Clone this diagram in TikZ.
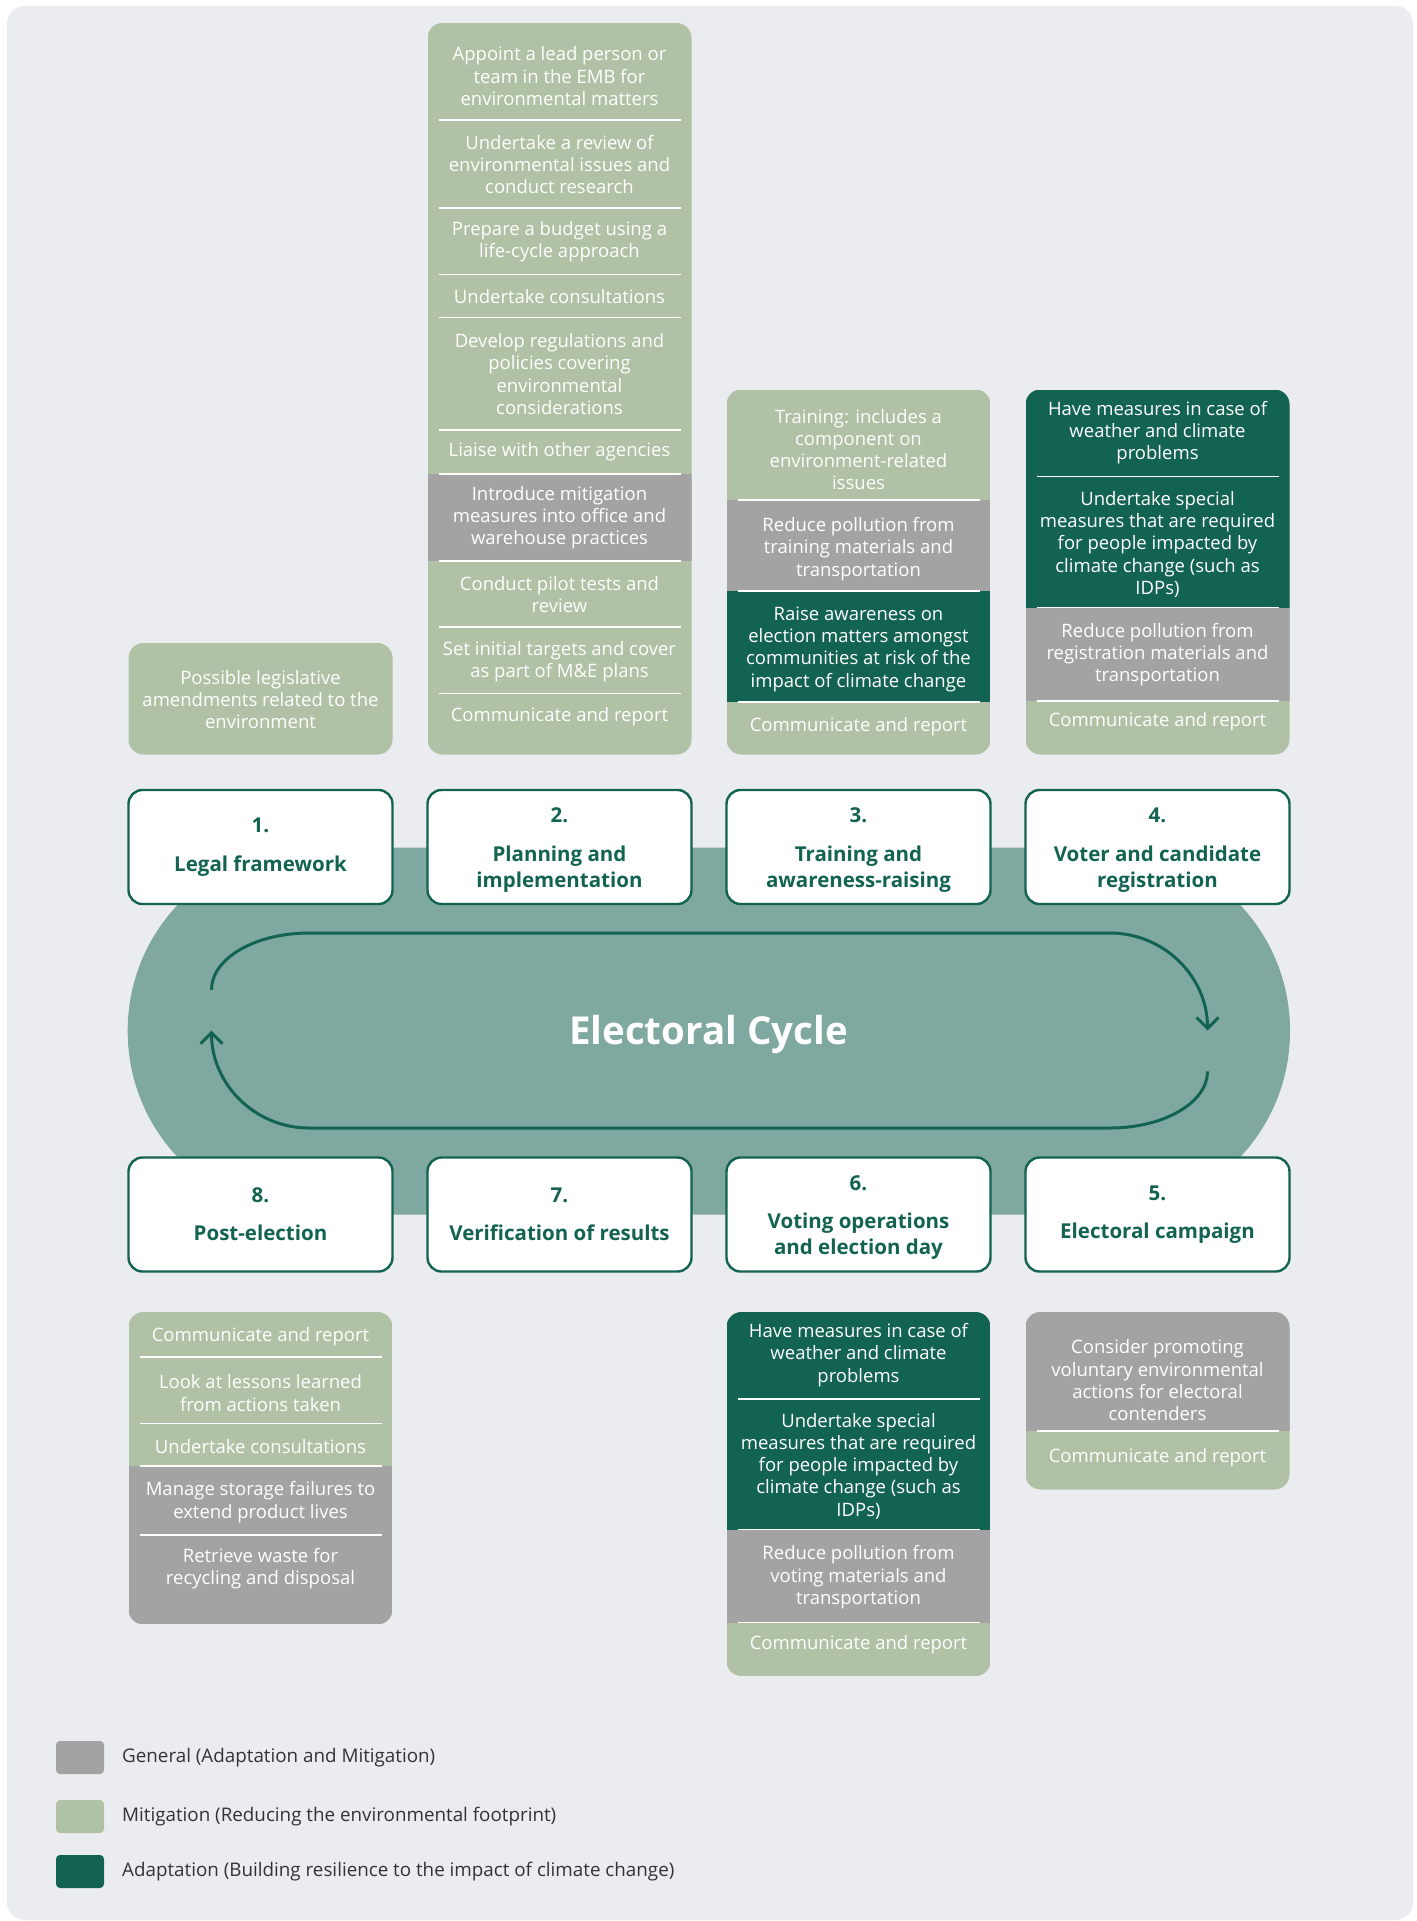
\documentclass[tikz,border=0pt]{standalone}
\usepackage{fontspec}
\setmainfont{Open Sans}
\usetikzlibrary{arrows.meta}

\definecolor{fond}{HTML}{EBECF0}
\definecolor{sauge}{HTML}{B0C1A5}
\definecolor{gris}{HTML}{A3A3A3}
\definecolor{vertfonce}{HTML}{136352}
\definecolor{sarcelle}{HTML}{7FA8A0}

\begin{document}
\begin{tikzpicture}[x=1pt,y=1pt,yscale=-1,
  etape/.style={draw=vertfonce,line width=2.4pt,fill=white,rounded corners=14pt,
    minimum width=264pt,minimum height=114pt,inner sep=0pt,align=center,
    text=vertfonce,font=\fontsize{20.5}{26}\selectfont\bfseries},
  texte/.style={text=white,align=center,inner sep=0pt,yshift=-1.6pt,
    font=\fontsize{18.5}{22.3}\selectfont},
  trait/.style={white,line width=1.6pt},
  boucle/.style={vertfonce,line width=3pt,-{Straight Barb[length=11pt,width=22pt]}},
  legende/.style={anchor=west,inner sep=0pt,text=black!80,
    font=\fontsize{18.8}{22}\selectfont}]

% Fond
\fill[white] (0,0) rectangle (1416,1921);
\fill[fond,rounded corners=18pt] (7,6) rectangle (1413,1920);

% Anneau central et boucle
\fill[sarcelle,rounded corners=183pt] (127.7,847.5) rectangle (1290,1214.5);
\draw[boucle] (211.5,989.8) arc[start angle=180,end angle=270,x radius=97.5,y radius=56.8]
  -- (1110,933) arc[start angle=270,end angle=360,radius=97.5];
\draw[boucle] (1207.5,1071.4) arc[start angle=0,end angle=90,x radius=97.5,y radius=56.6]
  -- (309,1128) arc[start angle=90,end angle=180,radius=97.5];
\node[text=white,font=\fontsize{38.5}{40}\selectfont\bfseries] (titre) at (708.5,1034.5) {Electoral Cycle};

% Etapes du cycle
\node[etape] (etape1) at (260.5,847) {1.\\[12.3pt]Legal framework};
\node[etape] (etape2) at (559.5,847) {\rule{0pt}{21pt}2.\\[12.7pt]Planning and\\implementation};
\node[etape] (etape3) at (858.5,847) {\rule{0pt}{21pt}3.\\[12.7pt]Training and\\awareness-raising};
\node[etape] (etape4) at (1157.5,847) {\rule{0pt}{21pt}4.\\[12.7pt]Voter and candidate\\registration};
\node[etape] (etape5) at (1157.5,1214.5) {5.\\[12.3pt]Electoral campaign};
\node[etape] (etape6) at (858.5,1214.5) {\rule{0pt}{21pt}6.\\[12.7pt]Voting operations\\and election day};
\node[etape] (etape7) at (559.5,1214.5) {7.\\[12.3pt]Verification of results};
\node[etape] (etape8) at (260.5,1214.5) {8.\\[12.3pt]Post-election};

% Colonne 1 (haut)
\fill[sauge,rounded corners=15pt] (128.5,643) rectangle (392.5,754.5);
\node[texte] (legis) at (260.5,698) {Possible legislative\\amendments related to the\\environment};

% Colonne 2 (haut)
\begin{scope}
\clip[rounded corners=15pt] (427.5,23) rectangle (691.5,754.5);
\fill[sauge] (427.5,23) rectangle (691.5,754.5);
\fill[gris] (427.5,474) rectangle (691.5,561);
\end{scope}
\draw[trait] (438.5,120) -- (680.5,120) (438.5,208.2) -- (680.5,208.2)
  (438.5,274.4) -- (680.5,274.4) (438.5,317.3) -- (680.5,317.3)
  (438.5,430) -- (680.5,430) (438.5,474) -- (680.5,474)
  (438.5,561) -- (680.5,561) (438.5,627.2) -- (680.5,627.2)
  (438.5,693.3) -- (680.5,693.3);
\node[texte] (plan1) at (559.5,74.7) {Appoint a lead person or\\team in the EMB for\\environmental matters};
\node[texte] (plan2) at (559.5,162.9) {Undertake a review of\\environmental issues and\\conduct research};
\node[texte] (plan3) at (559.5,240.1) {Prepare a budget using a\\life-cycle approach};
\node[texte] (plan4) at (559.5,295.2) {Undertake consultations};
\node[texte] (plan5) at (559.5,372.4) {Develop regulations and\\policies covering\\environmental\\considerations};
\node[texte] (plan6) at (559.5,450.5) {Liaise with other agencies};
\node[texte] (plan7) at (559.5,516.1) {Introduce mitigation\\measures into office and\\warehouse practices};
\node[texte] (plan8) at (559.5,592.9) {Conduct pilot tests and\\review};
\node[texte] (plan9) at (559.5,660.2) {Set initial targets and cover\\as part of M\&E plans};
\node[texte] (plan10) at (559.5,715.3) {Communicate and report};

% Colonne 3 (haut)
\begin{scope}
\clip[rounded corners=15pt] (726.5,389.5) rectangle (990.5,754.5);
\fill[sauge] (726.5,389.5) rectangle (990.5,754.5);
\fill[gris] (726.5,500) rectangle (990.5,591);
\fill[vertfonce] (726.5,591) rectangle (990.5,701.7);
\end{scope}
\draw[trait] (737.5,500) -- (979.5,500) (737.5,591) -- (979.5,591)
  (737.5,701.7) -- (979.5,701.7);
\node[texte] (form1) at (858.5,448) {Training: includes a\\component on\\environment-related\\issues};
\node[texte] (form2) at (858.5,547.5) {Reduce pollution from\\training materials and\\transportation};
\node[texte] (form3) at (858.5,647.4) {Raise awareness on\\election matters amongst\\communities at risk of the\\impact of climate change};
\node[texte] (form4) at (858.5,725) {Communicate and report};

% Colonne 4 (haut)
\begin{scope}
\clip[rounded corners=15pt] (1025.5,389.5) rectangle (1289.5,754.5);
\fill[sauge] (1025.5,389.5) rectangle (1289.5,754.5);
\fill[vertfonce] (1025.5,389.5) rectangle (1289.5,607.5);
\fill[gris] (1025.5,607.5) rectangle (1289.5,700.7);
\end{scope}
\draw[trait] (1036.5,476.5) -- (1278.5,476.5) (1036.5,607.5) -- (1278.5,607.5)
  (1036.5,700.7) -- (1278.5,700.7);
\node[texte] (insc1) at (1157.5,431) {Have measures in case of\\weather and climate\\problems};
\node[texte] (insc2) at (1157.5,542.6) {Undertake special\\measures that are required\\for people impacted by\\climate change (such as\\IDPs)};
\node[texte] (insc3) at (1157.5,652.9) {Reduce pollution from\\registration materials and\\transportation};
\node[texte] (insc4) at (1157.5,720) {Communicate and report};

% Colonne 1 (bas)
\begin{scope}
\clip[rounded corners=15pt] (128.5,1312) rectangle (392.5,1624.3);
\fill[sauge] (128.5,1312) rectangle (392.5,1624.3);
\fill[gris] (128.5,1466.2) rectangle (392.5,1624.3);
\end{scope}
\draw[trait] (139.5,1357) -- (381.5,1357) (139.5,1423.3) -- (381.5,1423.3)
  (139.5,1466.2) -- (381.5,1466.2) (139.5,1534.8) -- (381.5,1534.8);
\node[texte] (post1) at (260.5,1335) {Communicate and report};
\node[texte] (post2) at (260.5,1391.5) {Look at lessons learned\\from actions taken};
\node[texte] (post3) at (260.5,1445.4) {Undertake consultations};
\node[texte] (post4) at (260.5,1500.5) {Manage storage failures to\\extend product lives};
\node[texte] (post5) at (260.5,1566.8) {Retrieve waste for\\recycling and disposal};

% Colonne 3 (bas)
\begin{scope}
\clip[rounded corners=15pt] (726.5,1312) rectangle (990.5,1676);
\fill[sauge] (726.5,1312) rectangle (990.5,1676);
\fill[vertfonce] (726.5,1312) rectangle (990.5,1529.6);
\fill[gris] (726.5,1529.6) rectangle (990.5,1622.5);
\end{scope}
\draw[trait] (737.5,1399) -- (979.5,1399) (737.5,1529.6) -- (979.5,1529.6)
  (737.5,1622.5) -- (979.5,1622.5);
\node[texte] (vote1) at (858.5,1353.5) {Have measures in case of\\weather and climate\\problems};
\node[texte] (vote2) at (858.5,1464.5) {Undertake special\\measures that are required\\for people impacted by\\climate change (such as\\IDPs)};
\node[texte] (vote3) at (858.5,1575.6) {Reduce pollution from\\voting materials and\\transportation};
\node[texte] (vote4) at (858.5,1642.7) {Communicate and report};

% Colonne 4 (bas)
\begin{scope}
\clip[rounded corners=15pt] (1025.5,1312) rectangle (1289.5,1489.5);
\fill[sauge] (1025.5,1312) rectangle (1289.5,1489.5);
\fill[gris] (1025.5,1312) rectangle (1289.5,1430.7);
\end{scope}
\draw[trait] (1036.5,1430.7) -- (1278.5,1430.7);
\node[texte] (camp1) at (1157.5,1378.6) {Consider promoting\\voluntary environmental\\actions for electoral\\contenders};
\node[texte] (camp2) at (1157.5,1456.4) {Communicate and report};

% Legende
\fill[gris,rounded corners=4pt] (56,1741) rectangle (104,1774);
\fill[sauge,rounded corners=4pt] (56,1800) rectangle (104,1833);
\fill[vertfonce,rounded corners=4pt] (56,1855) rectangle (104,1888);
\node[legende] (leg1) at (122,1757.5) {General (Adaptation and Mitigation)};
\node[legende] (leg2) at (122,1816.5) {Mitigation (Reducing the environmental footprint)};
\node[legende] (leg3) at (122,1871.5) {Adaptation (Building resilience to the impact of climate change)};

\end{tikzpicture}
\end{document}
